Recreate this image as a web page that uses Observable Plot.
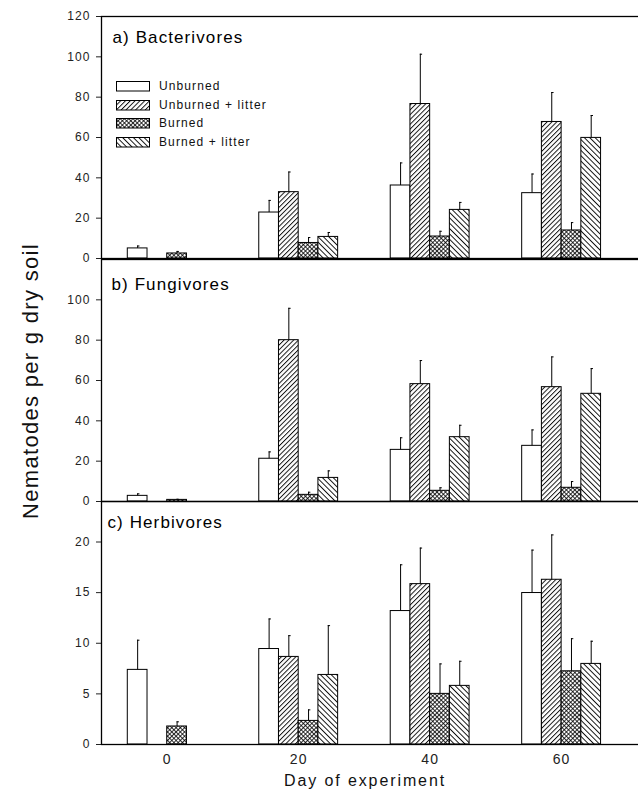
<!DOCTYPE html>
<html><head><meta charset="utf-8">
<script src="https://cdn.jsdelivr.net/npm/d3@7"></script>
<script src="https://cdn.jsdelivr.net/npm/@observablehq/plot@0.6"></script>
<style>
html,body{margin:0;padding:0;background:#fff;}
body{width:638px;height:793px;overflow:hidden;position:relative;font-family:"Liberation Sans",Arial,sans-serif;color:#111;}
.panel{position:absolute;left:0;}
#ytitle{position:absolute;left:31px;top:381px;transform:translate(-50%,-50%) rotate(-90deg);white-space:nowrap;font-size:22px;letter-spacing:1.3px;}
#xtitle{position:absolute;left:365px;top:781px;transform:translate(-50%,-50%);white-space:nowrap;font-size:16px;letter-spacing:1.9px;}
#legend{position:absolute;left:116px;top:81px;font-size:12px;letter-spacing:1.1px;}
#legend .row{height:18.5px;display:flex;align-items:flex-start;}
#legend svg{display:block;margin-right:8px;}
#legend span{line-height:11px;}
</style></head><body>
<svg width="0" height="0" style="position:absolute">
<defs>
<pattern id="pFwd" patternUnits="userSpaceOnUse" width="3.4" height="3.4" patternTransform="rotate(45)">
<rect width="3.4" height="3.4" fill="#fff"/><line x1="0.5" y1="0" x2="0.5" y2="3.4" stroke="#000" stroke-width="0.9"/></pattern>
<pattern id="pCross" patternUnits="userSpaceOnUse" width="3" height="3" patternTransform="rotate(45)">
<rect width="3" height="3" fill="#fff"/><line x1="0.5" y1="0" x2="0.5" y2="3" stroke="#000" stroke-width="0.8"/><line x1="0" y1="0.5" x2="3" y2="0.5" stroke="#000" stroke-width="0.8"/></pattern>
<pattern id="pBack" patternUnits="userSpaceOnUse" width="3.8" height="3.8" patternTransform="rotate(-45)">
<rect width="3.8" height="3.8" fill="#fff"/><line x1="0.5" y1="0" x2="0.5" y2="3.8" stroke="#000" stroke-width="0.9"/></pattern>
</defs></svg>
<div id="ytitle">Nematodes per g dry soil</div>
<div id="xtitle">Day of experiment</div>
<script>
// ---- data ----
const days = [0, 20, 40, 60];
const treatments = ["Unburned", "Unburned + litter", "Burned", "Burned + litter"];
const fills = ["#fff", "url(#pFwd)", "url(#pCross)", "url(#pBack)"];

const panelTitles = ["a) Bacterivores", "b) Fungivores", "c) Herbivores"];
const yTicksA = [0, 20, 40, 60, 80, 100, 120];
const yTicksB = [0, 20, 40, 60, 80, 100];
const yTicksC = [0, 5, 10, 15, 20];

// Bacterivores: mean and standard error per treatment (by day)
const bactUnburned      = [5.0, 22.8, 36.2, 32.4];
const bactUnburnedSE    = [1.2, 6.0, 11.2, 9.5];
const bactUnburnedLit   = [null, 32.9, 76.6, 67.7];
const bactUnburnedLitSE = [null, 10.0, 24.7, 14.6];
const bactBurned        = [2.5, 7.7, 10.9, 13.9];
const bactBurnedSE      = [1.0, 2.7, 2.6, 3.9];
const bactBurnedLit     = [null, 10.7, 24.1, 59.8];
const bactBurnedLitSE   = [null, 2.2, 3.7, 11.1];

// Fungivores
const fungUnburned      = [2.8, 21.2, 25.6, 27.6];
const fungUnburnedSE    = [1.0, 3.4, 6.0, 7.9];
const fungUnburnedLit   = [null, 80.0, 58.2, 56.7];
const fungUnburnedLitSE = [null, 15.8, 11.7, 15.0];
const fungBurned        = [0.8, 3.3, 5.3, 6.8];
const fungBurnedSE      = [0.3, 1.3, 1.5, 3.1];
const fungBurnedLit     = [null, 11.7, 31.9, 53.4];
const fungBurnedLitSE   = [null, 3.5, 5.9, 12.5];

// Herbivores
const herbUnburned      = [7.37, 9.43, 13.18, 14.96];
const herbUnburnedSE    = [2.93, 2.97, 4.57, 4.24];
const herbUnburnedLit   = [null, 8.65, 15.84, 16.27];
const herbUnburnedLitSE = [null, 2.10, 3.56, 4.43];
const herbBurned        = [1.78, 2.33, 5.00, 7.23];
const herbBurnedSE      = [0.46, 1.09, 2.96, 3.22];
const herbBurnedLit     = [null, 6.87, 5.79, 7.96];
const herbBurnedLitSE   = [null, 4.87, 2.43, 2.24];

// ---- build tables ----
function rowsOf(means, ses) {
  const out = [];
  means.forEach((m, i) => m.forEach((v, j) => {
    if (v != null) out.push({day: days[j], i, treatment: treatments[i], mean: v, se: ses[i][j]});
  }));
  return out;
}
const panels = [
  {title: panelTitles[0], domain: [0, 120], ticks: yTicksA,
   rows: rowsOf([bactUnburned, bactUnburnedLit, bactBurned, bactBurnedLit], [bactUnburnedSE, bactUnburnedLitSE, bactBurnedSE, bactBurnedLitSE]),
   top: 0, height: 259, mt: 16, mb: 1, tdx: 11, tdy: 21},
  {title: panelTitles[1], domain: [0, 120], ticks: yTicksB,
   rows: rowsOf([fungUnburned, fungUnburnedLit, fungBurned, fungBurnedLit], [fungUnburnedSE, fungUnburnedLitSE, fungBurnedSE, fungBurnedLitSE]),
   top: 258, height: 244, mt: 1, mb: 1, tdx: 10, tdy: 25},
  {title: panelTitles[2], domain: [0, 24], ticks: yTicksC,
   rows: rowsOf([herbUnburned, herbUnburnedLit, herbBurned, herbBurnedLit], [herbUnburnedSE, herbUnburnedLitSE, herbBurnedSE, herbBurnedLitSE]),
   top: 500, height: 274, mt: 1, mb: 30, tdx: 6, tdy: 21, xaxis: true}
];

const barW = 3; // days
const x1 = d => d.day + (d.i - 2) * barW;
const xc = d => d.day + (d.i - 1.5) * barW;

panels.forEach(p => {
  const marks = [];
  treatments.forEach((t, i) => {
    marks.push(Plot.rectY(p.rows.filter(d => d.i === i), {
      x1, x2: d => x1(d) + barW, y1: 0, y2: "mean",
      fill: fills[i], stroke: "#000", strokeWidth: 1
    }));
  });
  marks.push(Plot.ruleX(p.rows, {x: xc, y1: "mean", y2: d => d.mean + d.se, stroke: "#000", strokeWidth: 1}));
  marks.push(Plot.ruleY(p.rows, {y: d => d.mean + d.se, x1: xc, x2: d => xc(d) + 0.35, stroke: "#000", strokeWidth: 1}));
  marks.push(Plot.frame({stroke: "#000", strokeWidth: 1.3}));
  marks.push(Plot.text([p.title], {frameAnchor: "top-left", textAnchor: "start", lineAnchor: "middle",
    dx: p.tdx, dy: p.tdy, fontSize: 17, fill: "#000", style: "letter-spacing:1.6px"}));
  const chart = Plot.plot({
    width: 641, height: p.height,
    marginLeft: 101, marginRight: 1, marginTop: p.mt, marginBottom: p.mb,
    style: {fontFamily: "Liberation Sans, Arial, sans-serif", fontSize: "12px", letterSpacing: "1.1px", color: "#222", background: "transparent", overflow: "visible", maxWidth: "none"},
    x: p.xaxis ? {domain: [-10, 72], ticks: days, tickSize: 0, tickPadding: 10, tickFormat: d => String(d), label: null}
               : {domain: [-10, 72], axis: null},
    y: {domain: p.domain, ticks: p.ticks, tickSize: 5, tickPadding: 6, label: null, tickFormat: d => String(d)},
    marks
  });
  chart.querySelectorAll('g[aria-label^="x-axis"] text').forEach(t => t.setAttribute("font-size", "14"));
  const wrap = document.createElement("div");
  wrap.className = "panel";
  wrap.style.top = p.top + "px";
  wrap.appendChild(chart);
  document.body.appendChild(wrap);
});

// legend (HTML, drawn over panel a)
const legend = document.createElement("div");
legend.id = "legend";
treatments.forEach((t, i) => {
  const row = document.createElement("div");
  row.className = "row";
  row.innerHTML = `<svg width="35" height="11"><rect x="0.5" y="0.5" width="33" height="9.5" fill="${fills[i]}" stroke="#000" stroke-width="1"/></svg><span>${t}</span>`;
  legend.appendChild(row);
});
document.body.appendChild(legend);
</script>
</body></html>
